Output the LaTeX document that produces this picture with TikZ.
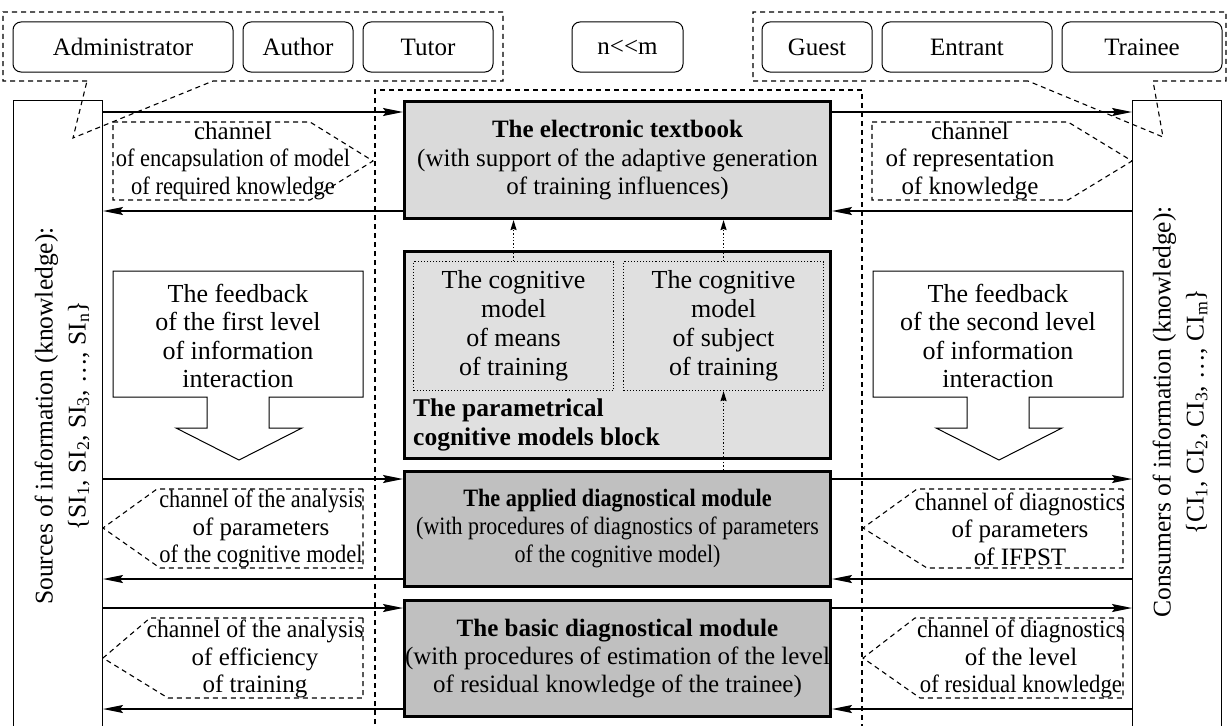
\documentclass[tikz,border=0pt]{standalone}
\usepackage{fontspec}
\setmainfont{Liberation Serif}
\usepackage{graphicx}
\usetikzlibrary{arrows.meta}
\newcommand{\hsq}[2]{\scalebox{#1}[1]{#2}}
\definecolor{tbgray}{RGB}{218,218,218}
\definecolor{pargray}{RGB}{224,224,224}
\definecolor{modgray}{RGB}{192,192,192}
\begin{document}
\begin{tikzpicture}[x=1pt,y=-1pt,
  every node/.style={font=\fontsize{25}{28}\selectfont, inner sep=0pt},
  rolebox/.style={draw, line width=1pt, rounded corners=8pt, minimum height=50pt},
  sidebox/.style={draw, line width=1pt, fill=white, minimum width=89pt, minimum height=700pt, anchor=north west},
  grp/.style={draw, line width=1.1pt, dash pattern=on 5pt off 4pt},
  mainbox/.style={draw, line width=3pt, minimum width=426pt, anchor=north west, align=center},
  cogbox/.style={draw, line width=1.1pt, dotted, minimum width=200pt, minimum height=129pt, anchor=north west, align=center, font=\fontsize{26}{29}\selectfont},
  chantext/.style={align=center, font=\fontsize{25}{27.5}\selectfont},
  fbtext/.style={align=center, font=\fontsize{26}{28.5}\selectfont},
  arr/.style={line width=1.5pt, -{Stealth[length=20pt,width=8pt,inset=3pt]}},
  dotarr/.style={line width=1.3pt, dotted, -{Stealth[length=10pt,width=6pt,inset=1pt]}},
  fb/.style={draw, line width=1pt, fill=white}
]
\useasboundingbox (0,0) rectangle (1230,725);

% center dashed frame
\draw[grp] (375,760) -- (375,90) -- (862,90) -- (862,760);

% side boxes
\node[sidebox] (src) at (13,100) {};
\node[sidebox] (con) at (1132,100) {};
\node[rotate=90, align=center, font=\fontsize{25.5}{33}\selectfont] (srcT) at (62,416)
  {Sources of information (knowledge):\\\{SI\textsubscript{1}, SI\textsubscript{2}, SI\textsubscript{3}, \ldots, SI\textsubscript{n}\}};
\node[rotate=90, align=center, font=\fontsize{25.5}{33}\selectfont] (conT) at (1180,412)
  {Consumers of information (knowledge):\\\{CI\textsubscript{1}, CI\textsubscript{2}, CI\textsubscript{3}, \ldots, CI\textsubscript{m}\}};

% groups with callout tails
\draw[grp] (87,81) -- (3,81) -- (3,12) -- (503,12) -- (503,81) -- (213,81) -- (73,138) -- cycle;
\draw[grp] (1028,81) -- (753,81) -- (753,12) -- (1226,12) -- (1226,81) -- (1153,81) -- (1163,137) -- cycle;

% role boxes
\node[rolebox, minimum width=220pt] (adm) at (123,47) {Administrator};
\node[rolebox, minimum width=110pt] (aut) at (298,47) {Author};
\node[rolebox, minimum width=130pt] (tut) at (428,47) {Tutor};
\node[rolebox, minimum width=111pt] (nm) at (627.5,47) {n<\kern0pt<m};
\node[rolebox, minimum width=110pt] (gst) at (817,47) {Guest};
\node[rolebox, minimum width=170pt] (ent) at (967,47) {Entrant};
\node[rolebox, minimum width=160pt] (trn) at (1142,47) {Trainee};

% main boxes
\node[mainbox, fill=tbgray, minimum height=117pt] (tb) at (403,100)
  {\textbf{The electronic textbook}\\[1pt](with support of the adaptive generation\\of training influences)};
\node[mainbox, fill=pargray, minimum height=207pt] (par) at (403,250) {};
\node[cogbox] (cogL) at (413,261) {The cognitive\\model\\of means\\of training};
\node[cogbox] (cogR) at (623,261) {The cognitive\\model\\of subject\\of training};
\node[anchor=west, align=left, font=\fontsize{25.5}{29}\selectfont\bfseries] (parT) at (413,425)
  {The parametrical\\cognitive models block};
\node[mainbox, fill=modgray, minimum height=115pt] (app) at (403,470)
  {\hsq{0.89}{\textbf{The applied diagnostical module}}\\\hsq{0.88}{(with procedures of diagnostics of parameters}\\\hsq{0.88}{of the cognitive model)}};
\node[mainbox, fill=modgray, minimum height=116pt] (bas) at (403,599)
  {\textbf{The basic diagnostical module}\\(with procedures of estimation of the level\\of residual knowledge of the trainee)};

% dotted arrows
\draw[dotarr] (cogL.north) -- (cogL.north |- tb.south);
\draw[dotarr] (cogR.north) -- (cogR.north |- tb.south);
\draw[dotarr] (cogR.south |- app.north) -- (cogR.south);

% channel shapes
\draw[grp] (113,122) -- (310,122) -- (373,161) -- (310,200) -- (113,200) -- cycle;
\draw[grp] (872,122) -- (1068,122) -- (1132,161) -- (1068,200) -- (872,200) -- cycle;
\draw[grp] (363,489) -- (157,489) -- (103,528) -- (160,568) -- (363,568) -- cycle;
\draw[grp] (363,618) -- (150,618) -- (103,658) -- (168,698) -- (363,698) -- cycle;
\draw[grp] (1123,489) -- (917,489) -- (863,528) -- (927,568) -- (1123,568) -- cycle;
\draw[grp] (1123,618) -- (915,618) -- (863,658) -- (920,698) -- (1123,698) -- cycle;

\node[chantext] (c1) at (233,161) {channel\\\hsq{0.9}{of encapsulation of model}\\\hsq{0.9}{of required knowledge}};
\node[chantext] (c2) at (970,161) {channel\\of representation\\of knowledge};
\node[chantext] (c3) at (261,529) {\hsq{0.89}{channel of the analysis}\\of parameters\\\hsq{0.9}{of the cognitive model}};
\node[chantext] (c4) at (255,659) {\hsq{0.95}{channel of the analysis}\\of efficiency\\of training};
\node[chantext] (c5) at (1020,529) {\hsq{0.94}{channel of diagnostics}\\of parameters\\of IFPST};
\node[chantext] (c6) at (1021,659) {\hsq{0.93}{channel of diagnostics}\\of the level\\\hsq{0.91}{of residual knowledge}};

% feedback block arrows
\draw[fb] (113,271) -- (363,271) -- (363,397) -- (269,397) -- (269,428) -- (302,428) -- (239,460)
  -- (176,428) -- (207,428) -- (207,397) -- (113,397) -- cycle;
\draw[fb] (873,271) -- (1123,271) -- (1123,397) -- (1029,397) -- (1029,428) -- (1062,428) -- (999,460)
  -- (936,428) -- (967,428) -- (967,397) -- (873,397) -- cycle;
\node[fbtext] (fb1) at (238,336) {The feedback\\of the first level\\of information\\interaction};
\node[fbtext] (fb2) at (998,336) {The feedback\\of the second level\\of information\\interaction};

% horizontal arrows
\coordinate (tbIn) at ([yshift=-12pt]tb.north west);
\coordinate (tbOut) at ([yshift=9pt]tb.south west);
\coordinate (apIn) at ([yshift=-9pt]app.north west);
\coordinate (apOut) at ([yshift=9pt]app.south west);
\coordinate (bsIn) at ([yshift=-9pt]bas.north west);
\coordinate (bsOut) at ([yshift=9pt]bas.south west);
\foreach \i/\o/\b in {tbIn/tbOut/tb, apIn/apOut/app, bsIn/bsOut/bas}{
  \draw[arr] (\i -| src.east) -- (\i);
  \draw[arr] (\i -| \b.east) -- (\i -| con.west);
  \draw[arr] (\o) -- (\o -| src.east);
  \draw[arr] (\o -| con.west) -- (\o -| \b.east);
}
\end{tikzpicture}
\end{document}
